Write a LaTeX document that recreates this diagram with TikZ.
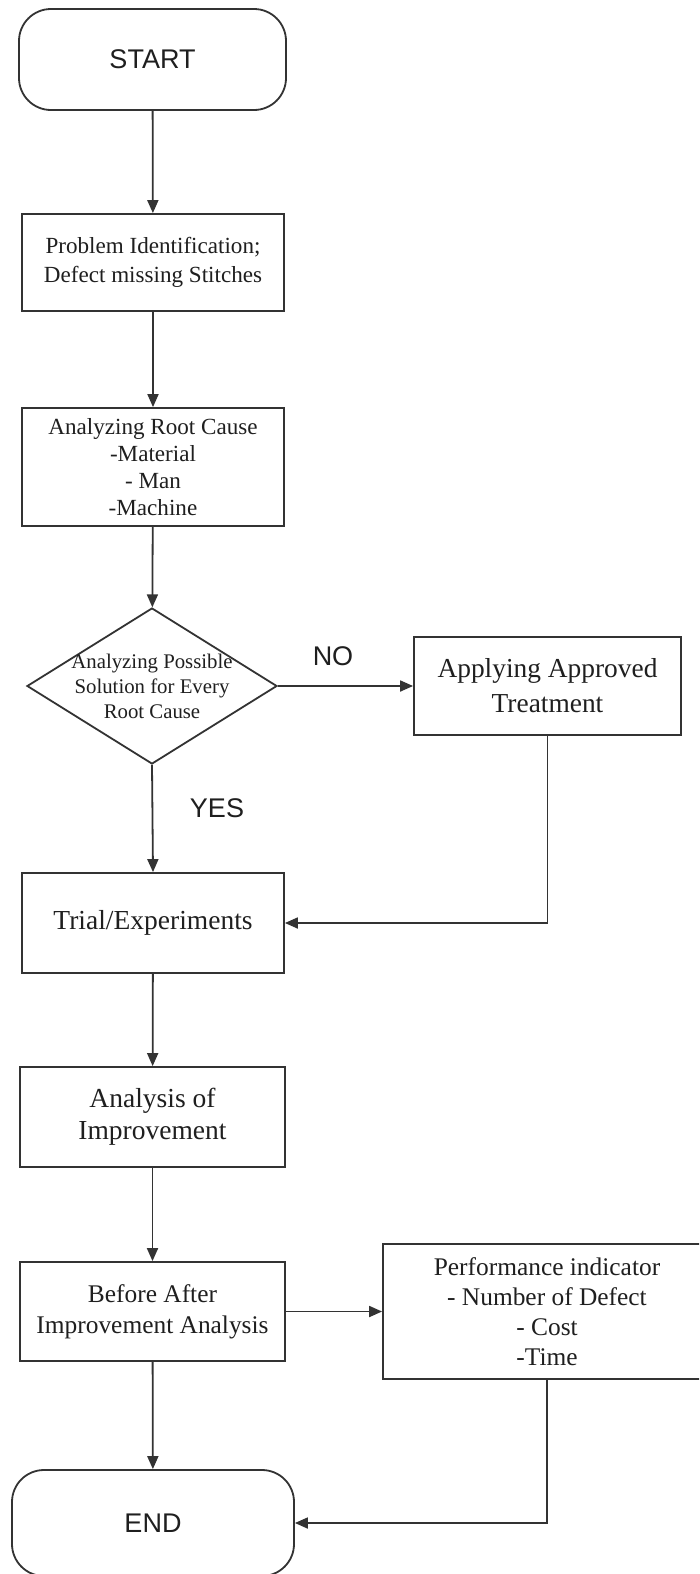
\documentclass[tikz,border=0pt]{standalone}
\usepackage{fontspec}
\setmainfont{Liberation Serif}
\newfontfamily\labelsans{Liberation Sans}
\usetikzlibrary{arrows.meta,shapes.geometric}
\begin{document}
\begin{tikzpicture}[x=1pt,y=-1pt,
  line width=1.8pt,
  ink/.style={draw=black!80},
  box/.style={ink, rectangle, inner sep=0pt, align=center, text=black!88},
  term/.style={box, rounded corners=32pt, font=\labelsans\fontsize{27}{32}\selectfont},
  flow/.style={ink, -{Triangle[length=13pt,width=11pt]}},
  tag/.style={font=\labelsans\fontsize{27}{32}\selectfont, text=black!88, inner sep=0pt},
]
\clip (0,0) rectangle (699,1574);
\fill[white] (0,0) rectangle (699,1574);

% main column
\node[term, minimum width=267pt, minimum height=101pt] (start) at (152.5,59.5) {START};
\node[box, minimum width=262pt, minimum height=97pt, font=\fontsize{23.1}{29}\selectfont]
  (prob) at (153,262.5) {Problem Identification;\\Defect missing Stitches};
\node[box, minimum width=262pt, minimum height=118pt, font=\fontsize{23.1}{27}\selectfont]
  (root) at (153,467) {Analyzing Root Cause\\-Material\\- Man\\-Machine};
\node[ink, diamond, minimum width=250pt, minimum height=156pt, inner sep=0pt] (dec) at (152,686) {};
\node[align=center, inner sep=0pt, text=black!88, font=\fontsize{20.8}{25}\selectfont]
  (dectext) at (dec.center) {Analyzing Possible\\Solution for Every\\Root Cause};
\node[box, minimum width=262pt, minimum height=100pt, font=\fontsize{27.5}{33}\selectfont]
  (trial) at (153,923) {Trial/Experiments};
\node[box, minimum width=265pt, minimum height=100pt, font=\fontsize{27.5}{32}\selectfont]
  (anal) at (152.5,1117) {Analysis of\\Improvement};
\node[box, minimum width=265pt, minimum height=99pt, font=\fontsize{25.4}{31}\selectfont]
  (before) at (152.5,1311.5) {Before After\\Improvement Analysis};
\node[term, minimum width=282pt, minimum height=106pt] (end) at (153,1523) {END};

% side column
\node[box, minimum width=267pt, minimum height=98pt, font=\fontsize{27.4}{35}\selectfont]
  (apply) at (547.5,686) {Applying Approved\\Treatment};
\node[box, minimum width=328pt, minimum height=135pt, font=\fontsize{25.4}{30}\selectfont]
  (perf) at (547,1311.5) {Performance indicator\\- Number of Defect\\- Cost\\-Time};

% decision labels
\node[tag] (no) at (333,656) {NO};
\node[tag] (yes) at (217,808) {YES};

% connectors
\draw[flow] (start) -- (prob);
\draw[flow] (prob) -- (root);
\draw[flow] (root) -- (dec);
\draw[flow] (dec.east) -- (apply.west);
\draw[flow] (dec.south) -- (trial.north);
\draw[flow] (apply.south) -- (apply.south |- trial.east) -- (trial.east);
\draw[flow] (trial) -- (anal);
\draw[flow] (anal) -- (before);
\draw[flow] (before.east) -- (perf.west);
\draw[flow] (before) -- (end);
\draw[flow] (perf.south) -- (perf.south |- end.east) -- (end.east);
\end{tikzpicture}
\end{document}
